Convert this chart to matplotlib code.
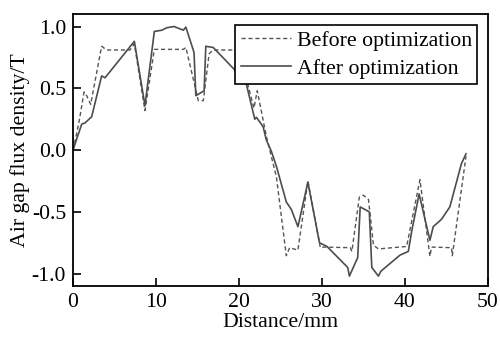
import matplotlib
matplotlib.use("Agg")
import matplotlib.pyplot as plt

# data
before_x = [0, 0.24, 0.76, 1.33, 1.65, 2.13, 3.45, 4.06, 6.87, 7.39, 8.67, 9.8, 13.3, 13.6,
            15.1, 15.7, 16.4, 16.9, 20.5, 21.1, 21.8, 22.2, 23.3, 24.5, 25.7, 26.1, 27.1,
            28.3, 29.8, 30.2, 33.4, 33.6, 34.5, 35.0, 35.6, 36.2, 36.8, 40.2, 41.8, 43.0,
            43.2, 45.6, 45.7, 47.35]
before_y = [0.0, 0.07, 0.24, 0.47, 0.44, 0.37, 0.84, 0.81, 0.81, 0.86, 0.32, 0.815, 0.815, 0.83,
            0.40, 0.40, 0.78, 0.81, 0.81, 0.52, 0.34, 0.48, 0.11, -0.215, -0.855, -0.79, -0.81,
            -0.25, -0.79, -0.785, -0.79, -0.82, -0.38, -0.365, -0.40, -0.77, -0.80, -0.78, -0.24, -0.86,
            -0.785, -0.79, -0.855, -0.05]

after_x = [0, 1.05, 1.45, 2.25, 3.45, 3.86, 7.39, 8.67, 9.8, 10.7, 11.3, 12.17, 13.3, 13.6,
           14.58, 14.8, 15.8, 16.0, 16.9, 19.9, 20.9, 21.9, 22.1, 22.9, 23.3, 23.9, 24.5,
           25.7, 26.3, 27.1, 28.3, 29.7, 30.6, 33.1, 33.3, 34.3, 34.6, 35.7, 36.0, 36.8,
           37.1, 39.4, 40.4, 40.8, 41.7, 43.0, 43.4, 44.4, 45.4, 46.8, 47.35]
after_y = [0.0, 0.21, 0.22, 0.27, 0.6, 0.585, 0.88, 0.36, 0.96, 0.97, 0.99, 1.0, 0.97, 0.995,
           0.79, 0.44, 0.48, 0.84, 0.83, 0.62, 0.53, 0.25, 0.265, 0.19, 0.08, -0.01, -0.13,
           -0.42, -0.48, -0.62, -0.26, -0.75, -0.78, -0.95, -1.02, -0.87, -0.46, -0.50, -0.95, -1.02,
           -0.98, -0.85, -0.82, -0.66, -0.355, -0.73, -0.62, -0.56, -0.46, -0.11, -0.03]

plt.rcParams['font.family'] = ['Liberation Serif', 'DejaVu Serif']
plt.rcParams['font.size'] = 15.7

fig = plt.figure(figsize=(5, 3.45), dpi=100)
ax = fig.add_axes([0.146, 0.171, 0.83, 0.788])

ax.plot(before_x, before_y, color='#555555', lw=1.0, ls=(0, (3, 2)), label='Before optimization')
ax.plot(after_x, after_y, color='#4d4d4d', lw=1.2, label='After optimization')

ax.set_xlim(0, 50)
ax.set_ylim(-1.1, 1.1)
ax.set_xticks([0, 10, 20, 30, 40, 50])
ax.set_yticks([-1.0, -0.5, 0.0, 0.5, 1.0])
ax.set_yticklabels(['-1.0', '-0.5', '0.0', '0.5', '1.0'])
ax.tick_params(direction='in', length=6, width=1.2, top=False, right=False, pad=5)
for s in ax.spines.values():
    s.set_linewidth(1.3)

ax.set_xlabel('Distance/mm', labelpad=1)
ax.set_ylabel('Air gap flux density/T', labelpad=1)

leg = ax.legend(loc='upper right', frameon=True, fancybox=False, edgecolor='black',
                handlelength=2.3, handletextpad=0.25, labelspacing=0.35, borderpad=0.25,
                borderaxespad=0.5, framealpha=1)
leg.get_frame().set_linewidth(1.2)

fig.savefig('out.png', dpi=100)
